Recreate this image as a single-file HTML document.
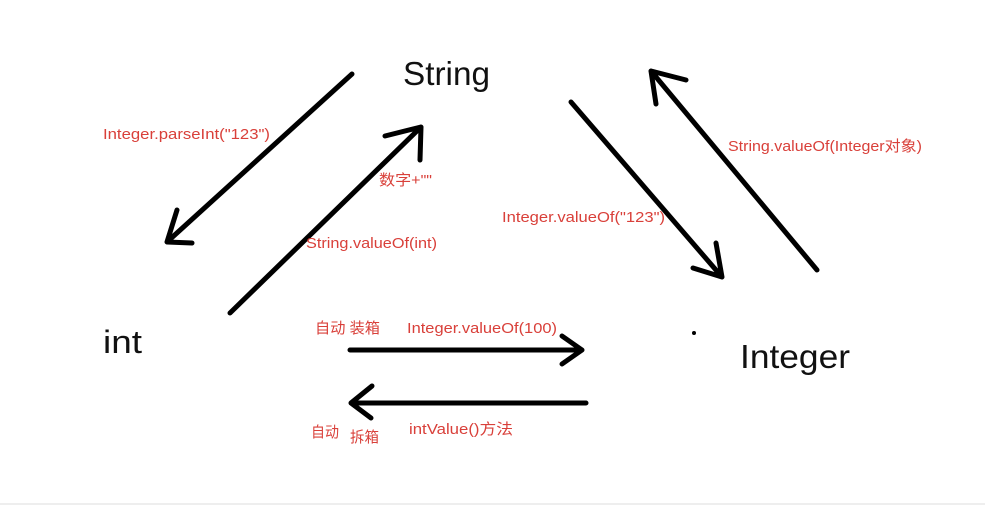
<!DOCTYPE html>
<html><head><meta charset="utf-8"><style>
html,body{margin:0;padding:0;background:#fff;width:985px;height:505px;overflow:hidden}
svg{display:block}
.b{font-family:"Liberation Sans","Noto Sans CJK SC",sans-serif;fill:#111}
.r{font-family:"Liberation Sans","Noto Sans CJK SC",sans-serif;fill:#d9403a;font-size:15px}
</style></head><body>
<svg width="985" height="505" viewBox="0 0 985 505">
<rect x="0" y="503" width="985" height="2" fill="#eee"/>
<g stroke="#000" stroke-width="5" fill="none" stroke-linecap="round" stroke-linejoin="round">
<path d="M352 74 L167 242 M177 210 L167 242 L192 243"/>
<path d="M230 313 L421 127 M385 136 L421 127 L420 160"/>
<path d="M571 102 L722 277 M693 268 L722 277 L716 243"/>
<path d="M817 270 L651 71 M686 80 L651 71 L656 104"/>
<path d="M350 350 L582 350 M562 336 L582 350 L562 364"/>
<path d="M586 403 L351 403 M372 386 L351 403 L371 418"/>
</g>
<circle cx="694" cy="333" r="2" fill="#000"/>
<text class="b" x="403" y="85" font-size="33" textLength="87" lengthAdjust="spacingAndGlyphs">String</text>
<text class="b" x="103" y="353" font-size="32" textLength="39" lengthAdjust="spacingAndGlyphs">int</text>
<text class="b" x="740" y="368" font-size="33" textLength="110" lengthAdjust="spacingAndGlyphs">Integer</text>
<text class="r" x="103" y="139" textLength="167" lengthAdjust="spacingAndGlyphs">Integer.parseInt("123")</text>
<text class="r" x="379" y="185" textLength="53" lengthAdjust="spacingAndGlyphs">数字+""</text>
<text class="r" x="306" y="248" textLength="131" lengthAdjust="spacingAndGlyphs">String.valueOf(int)</text>
<text class="r" x="502" y="222" textLength="163" lengthAdjust="spacingAndGlyphs">Integer.valueOf("123")</text>
<text class="r" x="728" y="151" textLength="194" lengthAdjust="spacingAndGlyphs">String.valueOf(Integer对象)</text>
<text class="r" x="315" y="333" textLength="65" lengthAdjust="spacingAndGlyphs">自动 装箱</text>
<text class="r" x="407" y="333" textLength="150" lengthAdjust="spacingAndGlyphs">Integer.valueOf(100)</text>
<text class="r" x="311" y="437" textLength="28" lengthAdjust="spacingAndGlyphs">自动</text>
<text class="r" x="350" y="442" textLength="29" lengthAdjust="spacingAndGlyphs">拆箱</text>
<text class="r" x="409" y="434" textLength="104" lengthAdjust="spacingAndGlyphs">intValue()方法</text>
</svg>
</body></html>
